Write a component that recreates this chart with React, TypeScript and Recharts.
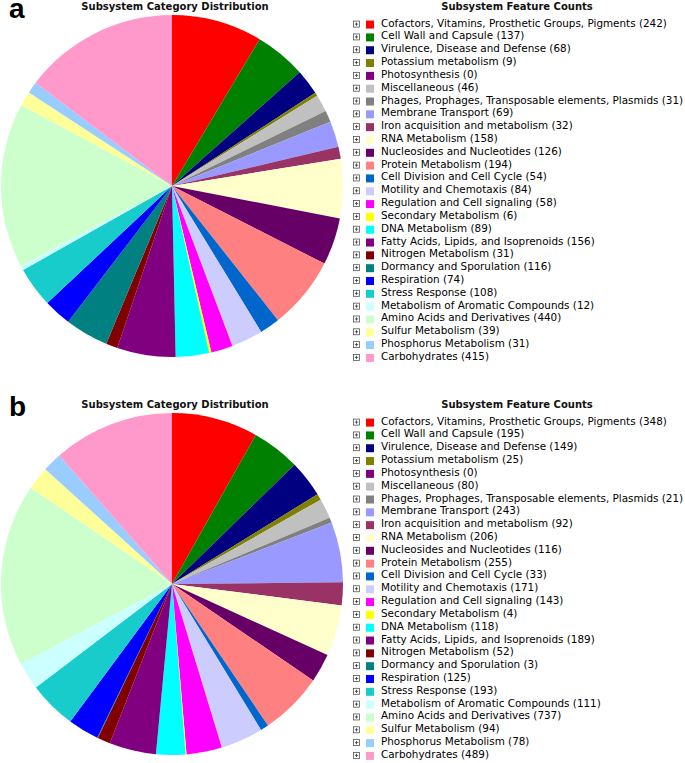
import React from 'react';
import { PieChart, Pie, Cell } from 'recharts';

const categories = [
  'Cofactors, Vitamins, Prosthetic Groups, Pigments',
  'Cell Wall and Capsule',
  'Virulence, Disease and Defense',
  'Potassium metabolism',
  'Photosynthesis',
  'Miscellaneous',
  'Phages, Prophages, Transposable elements, Plasmids',
  'Membrane Transport',
  'Iron acquisition and metabolism',
  'RNA Metabolism',
  'Nucleosides and Nucleotides',
  'Protein Metabolism',
  'Cell Division and Cell Cycle',
  'Motility and Chemotaxis',
  'Regulation and Cell signaling',
  'Secondary Metabolism',
  'DNA Metabolism',
  'Fatty Acids, Lipids, and Isoprenoids',
  'Nitrogen Metabolism',
  'Dormancy and Sporulation',
  'Respiration',
  'Stress Response',
  'Metabolism of Aromatic Compounds',
  'Amino Acids and Derivatives',
  'Sulfur Metabolism',
  'Phosphorus Metabolism',
  'Carbohydrates',
];

const countsA = [242, 137, 68, 9, 0, 46, 31, 69, 32, 158, 126, 194, 54, 84, 58, 6, 89, 156, 31, 116, 74, 108, 12, 440, 39, 31, 415];
const countsB = [348, 195, 149, 25, 0, 80, 21, 243, 92, 206, 116, 255, 33, 171, 143, 4, 118, 189, 52, 3, 125, 193, 111, 737, 94, 78, 489];

const colors = [
  '#FF0000', '#008000', '#000080', '#808000', '#800080', '#C0C0C0', '#808080',
  '#9999FF', '#993366', '#FFFFCC', '#660066', '#FF8080', '#0066CC', '#CCCCFF',
  '#FF00FF', '#FFFF00', '#00FFFF', '#800080', '#800000', '#008080', '#0000FF',
  '#19CCCC', '#CCFFFF', '#CCFFCC', '#FFFF99', '#99CCFF', '#FF99CC',
];

const panelTitle = 'Subsystem Category Distribution';
const legendTitle = 'Subsystem Feature Counts';

const FONT = '"DejaVu Sans", Verdana, sans-serif';
const PAD = 12;

function Panel({ letter, counts, top }: { letter: string; counts: number[]; top: number }) {
  const data = categories.map((name, i) => ({ name, value: counts[i] }));
  const rowY0 = 22.6 + PAD;
  const rowStep = 12.82;
  return (
    <div style={{ position: 'absolute', left: 0, top: top - PAD, width: 685, height: 365 + PAD }}>
      <PieChart width={685} height={365 + PAD} margin={{ top: 0, right: 0, bottom: 0, left: 0 }}>
        <Pie
          data={data}
          dataKey="value"
          nameKey="name"
          cx={172}
          cy={186 + PAD}
          outerRadius={171}
          startAngle={90}
          endAngle={-270}
          stroke="none"
          isAnimationActive={false}
        >
          {data.map((d, i) => (
            <Cell key={d.name} fill={colors[i]} />
          ))}
        </Pie>
        <text x={9} y={18 + PAD} fontFamily='"Liberation Sans", Arial, sans-serif' fontWeight="bold" fontSize={28} fill="#000">
          {letter}
        </text>
        <text x={175} y={9.5 + PAD} textAnchor="middle" fontFamily={FONT} fontWeight="bold" fontSize={10} fill="#111">
          {panelTitle}
        </text>
        <text x={517} y={9.5 + PAD} textAnchor="middle" fontFamily={FONT} fontWeight="bold" fontSize={10} fill="#111">
          {legendTitle}
        </text>
        {data.map((d, i) => {
          const cy = rowY0 + i * rowStep;
          return (
            <g key={'lg' + i}>
              <rect x={353.5} y={cy - 1.5} width={6} height={6} fill="#fff" stroke="#555" strokeWidth={0.8} />
              <line x1={354.8} x2={358.2} y1={cy + 1.5} y2={cy + 1.5} stroke="#333" strokeWidth={0.8} />
              <line x1={356.5} x2={356.5} y1={cy - 0.2} y2={cy + 3.2} stroke="#333" strokeWidth={0.8} />
              <rect x={366} y={cy - 2} width={8} height={8} fill={colors[i]} />
              <text x={381} y={cy + 4} fontFamily={FONT} fontSize={10.4} fill="#000">
                {`${d.name} (${d.value})`}
              </text>
            </g>
          );
        })}
      </PieChart>
    </div>
  );
}

export default function App() {
  return (
    <div style={{ position: 'absolute', left: 0, top: 0, width: 685, height: 763, background: '#fff', overflow: 'hidden' }}>
      <Panel letter="a" counts={countsA} top={0} />
      <Panel letter="b" counts={countsB} top={398} />
    </div>
  );
}
